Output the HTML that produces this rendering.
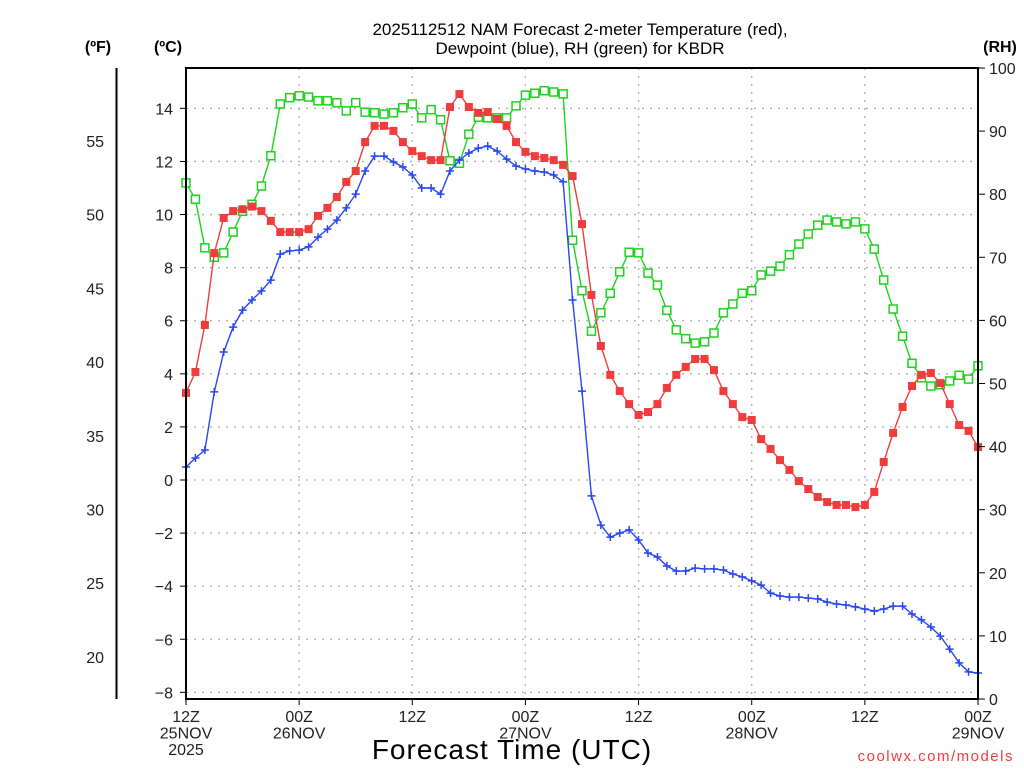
<!DOCTYPE html>
<html><head><meta charset="utf-8"><style>
html,body{margin:0;padding:0;background:#fff;}
svg text{font-family:"Liberation Sans",sans-serif;}
</style></head><body>
<svg id="chart" width="1024" height="768" xmlns="http://www.w3.org/2000/svg">
<rect width="1024" height="768" fill="#fff"/>
<g id="grid"></g><g id="series"></g><g id="axes"></g>
<text x="580" y="35" text-anchor="middle" font-size="17">2025112512 NAM Forecast 2-meter Temperature (red),</text>
<text x="580" y="54" text-anchor="middle" font-size="17">Dewpoint (blue), RH (green) for KBDR</text>
<text x="98" y="52" text-anchor="middle" font-size="16" font-weight="bold">(ºF)</text>
<text x="168" y="52" text-anchor="middle" font-size="16" font-weight="bold">(ºC)</text>
<text x="1000" y="52" text-anchor="middle" font-size="16" font-weight="bold">(RH)</text>
<text x="512" y="759" text-anchor="middle" font-size="28" letter-spacing="1">Forecast Time (UTC)</text>
<text x="1014" y="761" text-anchor="end" font-size="15" fill="#f03c3c" letter-spacing="1.5">coolwx.com/models</text>
</svg>
<script>
const temps=[3.28,4.07,5.84,8.55,9.87,10.13,10.2,10.3,10.13,9.76,9.34,9.34,9.34,9.45,9.95,10.25,10.66,11.23,11.64,12.73,13.34,13.34,13.15,12.73,12.39,12.2,12.05,12.05,14.05,14.54,14.05,13.83,13.86,13.6,13.34,12.73,12.36,12.2,12.13,12.05,11.87,11.45,9.64,6.97,5.05,3.96,3.35,2.86,2.45,2.56,2.86,3.47,3.96,4.26,4.56,4.56,4.14,3.35,2.86,2.37,2.26,1.54,1.17,0.75,0.38,-0.04,-0.34,-0.64,-0.83,-0.94,-0.94,-1.02,-0.94,-0.45,0.68,1.77,2.75,3.54,3.96,4.03,3.65,2.86,2.07,1.85,1.24];
const dewpts=[0.49,0.83,1.13,3.32,4.82,5.76,6.4,6.78,7.12,7.53,8.51,8.63,8.66,8.78,9.15,9.45,9.79,10.25,10.77,11.64,12.2,12.2,11.98,11.79,11.49,11.0,11.0,10.77,11.64,12.05,12.32,12.5,12.58,12.39,12.09,11.83,11.72,11.64,11.6,11.49,11.23,6.78,3.35,-0.6,-1.7,-2.15,-2.0,-1.88,-2.26,-2.75,-2.9,-3.24,-3.43,-3.43,-3.32,-3.35,-3.35,-3.39,-3.54,-3.65,-3.8,-3.96,-4.26,-4.37,-4.41,-4.41,-4.45,-4.48,-4.6,-4.67,-4.71,-4.78,-4.86,-4.94,-4.86,-4.75,-4.75,-5.05,-5.27,-5.54,-5.88,-6.37,-6.89,-7.23,-7.27];
const rh=[81.8,79.2,71.5,70.0,70.7,74.0,77.3,78.4,81.3,86.1,94.3,95.3,95.6,95.4,94.8,94.8,94.5,93.2,94.5,93.0,92.9,92.7,92.9,93.7,94.3,92.1,93.4,91.8,85.3,84.9,89.5,92.2,92.1,92.1,92.1,94.0,95.7,96.0,96.4,96.2,95.9,72.7,64.7,58.3,61.2,64.3,67.7,70.8,70.7,67.5,65.6,61.6,58.5,57.1,56.4,56.6,58.0,61.2,62.6,64.3,64.7,67.2,67.8,68.6,70.4,72.1,73.7,75.1,75.9,75.6,75.3,75.6,74.5,71.3,66.4,61.8,57.5,53.2,50.9,49.6,49.8,50.4,51.3,50.7,52.8];
const cTicks=[14,12,10,8,6,4,2,0,-2,-4,-6,-8];
const fTicks=[55,50,45,40,35,30,25,20];
const rhTicks=[100,90,80,70,60,50,40,30,20,10,0];
const xTickHours=[0,12,24,36,48,60,72,84];
const xTickLabels=[["12Z","25NOV","2025"],["00Z","26NOV"],["12Z"],["00Z","27NOV"],["12Z"],["00Z","28NOV"],["12Z"],["00Z","29NOV"]];

const L=186,R=978,T=68,B=699;
const xs=h=>L+(R-L)*h/84;
const yc=c=>480-(c)*(584/22);
const yr=r=>B-(B-T)*r/100;
const yf=f=>yc((f-32)*5/9);
const NS="http://www.w3.org/2000/svg";
function mk(tag,attrs,parent){const e=document.createElementNS(NS,tag);for(const k in attrs)e.setAttribute(k,attrs[k]);parent.appendChild(e);return e;}
const grid=document.getElementById('grid'),axes=document.getElementById('axes'),ser=document.getElementById('series');

cTicks.forEach(c=>{const y=yc(c);
 const g=mk('line',{x1:L,x2:R,y1:y,y2:y,stroke:'#aaa','stroke-dasharray':'2,6','stroke-width':1.3},grid);
 
 
 const t=mk('line',{x1:L-6,x2:L,y1:y,y2:y,stroke:'#000'},axes);
 
 
 const tx=mk('text',{x:L-13,y:y+6,'text-anchor':'end','font-size':16,fill:'#222'},axes);tx.textContent=(c<0?'\u2212':'')+Math.abs(c);
 
 });
xTickHours.forEach((h,i)=>{const x=xs(h);
 if(h>0&&h<84){const g=mk('line',{x1:x,x2:x,y1:T,y2:B,stroke:'#aaa','stroke-dasharray':'2,6','stroke-width':1.3},grid);
 
 }
 const t=mk('line',{x1:x,x2:x,y1:B,y2:B+6,stroke:'#000'},axes);
 
 
 xTickLabels[i].forEach((s,j)=>{const tx=mk('text',{x:x,y:722+j*16.5,'text-anchor':'middle','font-size':16,fill:'#222'},axes);tx.textContent=s;
 
 });});
fTicks.forEach(f=>{const tx=mk('text',{x:104,y:yf(f)+6,'text-anchor':'end','font-size':16,fill:'#222'},axes);tx.textContent=f;
 
 });
rhTicks.forEach(r=>{const y=yr(r);
 const t=mk('line',{x1:R,x2:R+7,y1:y,y2:y,stroke:'#000'},axes);
 
 
 const tx=mk('text',{x:989,y:y+6,'font-size':16,fill:'#222'},axes);tx.textContent=r;
 
 });
const fr=mk('rect',{x:L,y:T,width:R-L,height:B-T,fill:'none',stroke:'#000','stroke-width':2},axes);


const fa=mk('line',{x1:116.5,x2:116.5,y1:T,y2:B,stroke:'#000','stroke-width':2},axes);



function series(vals,yfn,color,name,marker){
 const pts=vals.map((v,i)=>xs(i).toFixed(1)+','+yfn(v).toFixed(1)).join(' ');
 const pl=mk('polyline',{points:pts,fill:'none',stroke:color,'stroke-width':1.4},ser);
 
 
 vals.forEach((v,i)=>{const x=xs(i),y=yfn(v);let m;
  if(marker==='fill'){m=mk('rect',{x:x-4,y:y-4,width:8,height:8,fill:color},ser);}
  else if(marker==='open'){m=mk('rect',{x:x-4,y:y-4,width:8,height:8,fill:'#fff',stroke:color,'stroke-width':1.5},ser);}
  else{m=mk('path',{d:`M${x-4},${y}H${x+4}M${x},${y-4}V${y+4}`,stroke:color,'stroke-width':1.5},ser);}
  
  });
}
series(rh,yr,'#1ed21e','rh','open');
series(dewpts,yc,'#2846f5','dewpoint','plus');
series(temps,yc,'#f03c3c','temperature','fill');
</script>
</body></html>
